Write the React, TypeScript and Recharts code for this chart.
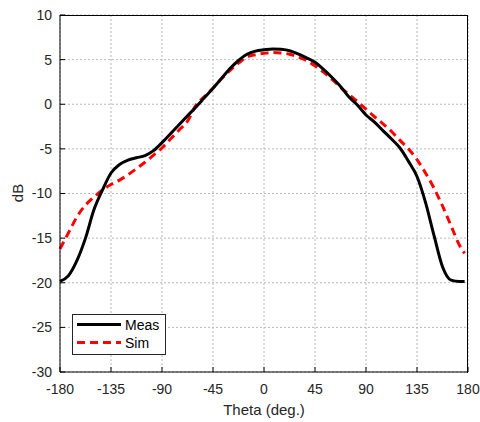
import { CartesianGrid, Legend, Line, LineChart, XAxis, YAxis } from "recharts";

const theta = [
  -180, -172.5, -165, -157.5, -150, -142.5, -135, -127.5, -120, -112.5, -105, -97.5,
  -90, -82.5, -75, -67.5, -60, -52.5, -45, -37.5, -30, -22.5, -15, -7.5,
  0, 7.5, 15, 22.5, 30, 37.5, 45, 52.5, 60, 67.5, 75, 82.5,
  90, 97.5, 105, 112.5, 120, 127.5, 135, 142.5, 150, 157.5, 165, 172.5, 177,
];

const meas = [
  -19.85, -19.2, -17.5, -15.0, -11.8, -9.6, -7.7, -6.75, -6.25, -6.0, -5.75, -5.2,
  -4.3, -3.3, -2.3, -1.3, -0.3, 0.75, 1.8, 2.9, 4.0, 4.9, 5.6, 5.95,
  6.1, 6.2, 6.15, 6.0, 5.65, 5.2, 4.7, 3.9, 3.0, 2.0, 0.8, -0.1,
  -1.2, -2.0, -2.95, -3.9, -4.9, -6.4, -8.1, -11.0, -14.7, -18.2, -19.7, -19.85, -19.85,
];

const sim = [
  -16.2, -14.4, -12.6, -11.3, -10.4, -9.6, -9.0, -8.5, -7.9, -7.2, -6.5, -5.7,
  -4.9, -3.9, -2.9, -1.9, -0.1, 0.85, 1.8, 2.85, 3.8, 4.6, 5.3, 5.55,
  5.7, 5.8, 5.75, 5.6, 5.3, 4.9, 4.3, 3.6, 2.8, 1.9, 1.1, 0.3,
  -0.55, -1.4, -2.2, -3.05, -4.05, -5.0, -6.2, -7.7, -9.4, -11.4, -13.6, -15.8, -16.7,
];

const xTicks = [-180, -135, -90, -45, 0, 45, 90, 135, 180];
const yTicks = [-30, -25, -20, -15, -10, -5, 0, 5, 10];

const rows = theta.map((t, i) => ({ theta: t, meas: meas[i], sim: sim[i] }));

const font = "'Liberation Sans', Arial, sans-serif";
const tickStyle = { fontSize: 14, fill: "#262626", fontFamily: font };

const LegendBox = () => (
  <svg width={94} height={41} style={{ display: "block" }}>
    <rect x={0.5} y={0.5} width={93} height={40} fill="#fff" stroke="#262626" strokeWidth={1} />
    <line x1={5} x2={49} y1={10.5} y2={10.5} stroke="#000" strokeWidth={3} />
    <line x1={5} x2={49} y1={28.5} y2={28.5} stroke="#ff0000" strokeWidth={3} strokeDasharray="8 5" />
    <text x={53} y={15.5} fontSize={14} fontFamily={font} fill="#000">Meas</text>
    <text x={53} y={33.5} fontSize={14} fontFamily={font} fill="#000">Sim</text>
  </svg>
);

export default function App() {
  return (
    <div style={{ position: "absolute", left: 0, top: 0, width: 480, height: 422, background: "#fff" }}>
      <LineChart width={480} height={422} data={rows} margin={{ top: 15, right: 12, bottom: 0, left: 0 }}>
        <CartesianGrid stroke="#b8b8b8" strokeDasharray="2 2" strokeWidth={1} />
        <XAxis
          dataKey="theta"
          type="number"
          domain={[-180, 180]}
          ticks={xTicks}
          height={50}
          stroke="#000"
          tickSize={-5}
          tickMargin={17}
          tick={tickStyle}
          label={() => (
            <text x={264} y={415} textAnchor="middle" fontSize={15} fontFamily={font} fill="#262626">
              Theta (deg.)
            </text>
          )}
        />
        <YAxis
          type="number"
          domain={[-30, 10]}
          ticks={yTicks}
          width={60}
          stroke="#000"
          tickSize={-5}
          tickMargin={13}
          tick={tickStyle}
          label={() => (
            <text x={23} y={193} transform="rotate(-90 23 193)" textAnchor="middle" fontSize={15} fontFamily={font} fill="#262626">
              dB
            </text>
          )}
        />
        <Legend
          layout="horizontal"
          verticalAlign="middle"
          content={() => <LegendBox />}
          wrapperStyle={{ position: "absolute", left: 72, top: 314, width: 94, height: 41 }}
        />
        <Line
          type="monotone"
          dataKey="sim"
          stroke="#ff0000"
          strokeWidth={3}
          strokeDasharray="8 5"
          dot={false}
          isAnimationActive={false}
        />
        <Line
          type="monotone"
          dataKey="meas"
          stroke="#000"
          strokeWidth={3}
          dot={false}
          isAnimationActive={false}
        />
      </LineChart>
      {/* top and right edges of the axes box */}
      <div
        style={{
          position: "absolute",
          left: 60,
          top: 15,
          width: 407,
          height: 357,
          borderTop: "1px solid #000",
          borderRight: "1px solid #000",
          pointerEvents: "none",
        }}
      />
    </div>
  );
}
